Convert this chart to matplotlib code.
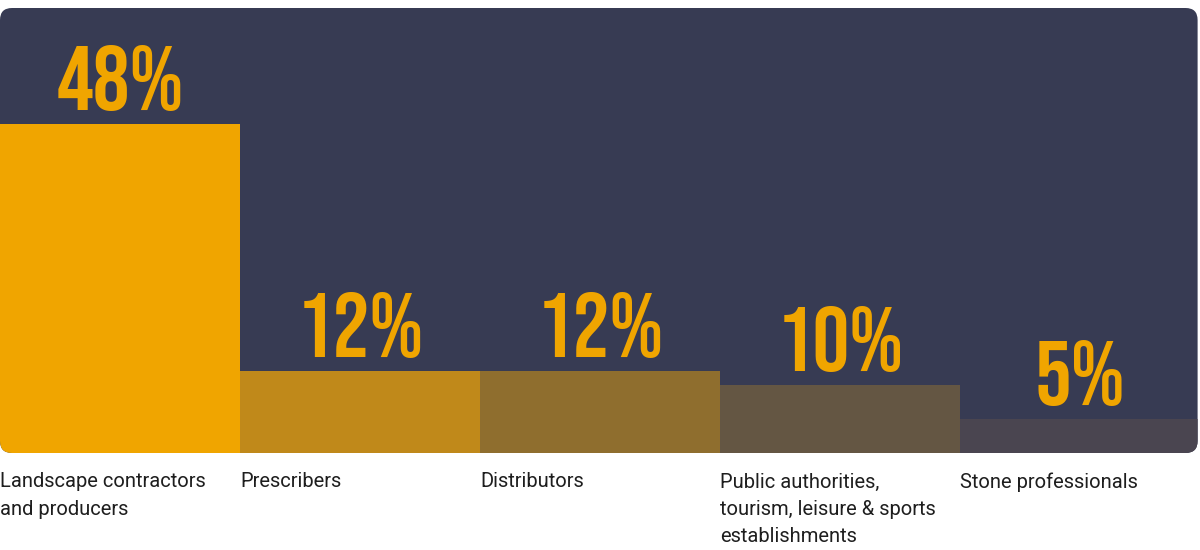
import matplotlib.pyplot as plt
from matplotlib.patches import FancyBboxPatch

categories = [
    "Landscape contractors\nand producers",
    "Prescribers",
    "Distributors",
    "Public authorities,\ntourism, leisure & sports\nestablishments",
    "Stone professionals",
]
values = [48, 12, 12, 10, 5]
value_labels = ["48%", "12%", "12%", "10%", "5%"]
bar_colors = ["#F0A500", "#C0891A", "#8F6E2E", "#645643", "#4A4550"]
panel_color = "#373B53"

fig = plt.figure(figsize=(12, 5.5), dpi=100)
fig.patch.set_facecolor("white")
ax = fig.add_axes([0, 97 / 550, 1, 445 / 550])
ax.set_xlim(0, len(values))
ax.set_ylim(0, 65.0)
ax.axis("off")

# rounded dark panel, bars get clipped to it
panel = FancyBboxPatch((0, 0), 0.998, 1, boxstyle="round,pad=0,rounding_size=0.010",
                       transform=ax.transAxes, facecolor=panel_color,
                       edgecolor="none", mutation_aspect=1200 / 445, zorder=0)
ax.add_patch(panel)

x = [i + 0.5 for i in range(len(values))]
bars = ax.bar(x, values, width=1.0, color=bar_colors, linewidth=0, zorder=1)
for b in bars:
    b.set_clip_path(panel)

for xi, v, lab in zip(x, values, value_labels):
    ax.annotate(lab, (xi, v), xytext=(0, 10), textcoords="offset points",
                ha="center", va="baseline", fontsize=66,
                family=["Bebas Neue", "Oswald", "DejaVu Sans"],
                color="#F0A500", zorder=3)

for i, cat in enumerate(categories):
    ax.annotate(cat, (i, 0), xytext=(0, -14), textcoords="offset points",
                ha="left", va="top", fontsize=14.5, family=["Roboto", "DejaVu Sans"],
                color="#1E1E1E", linespacing=1.55, annotation_clip=False)

fig.savefig("out.png", dpi=100, facecolor="white")
